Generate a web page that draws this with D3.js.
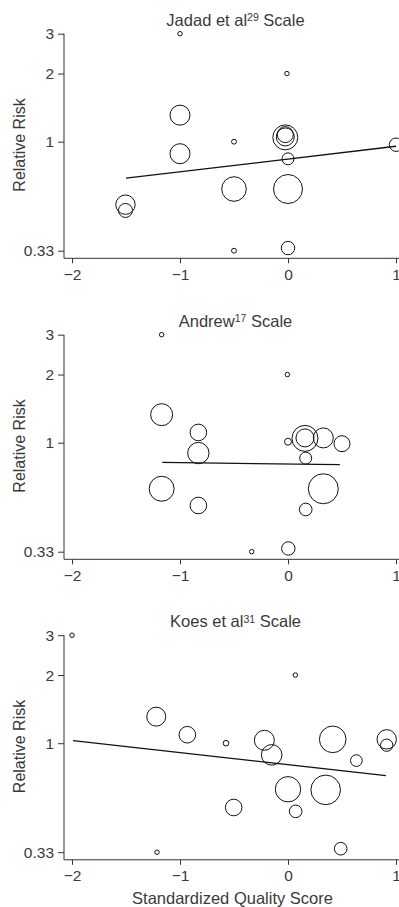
<!DOCTYPE html>
<html>
<head>
<meta charset="utf-8">
<script src="https://cdn.jsdelivr.net/npm/d3@7"></script>
<style>
  html, body { margin: 0; padding: 0; background: #fff; }
  svg { display: block; }
  text { font-family: "Liberation Sans", Arial, Helvetica, sans-serif; fill: #3a3a3a; }
</style>
</head>
<body>
<div id="chart"></div>
<script>
// ---------------- DATA ----------------
const panelTitles = ["Jadad et al", "Andrew", "Koes et al"];
const panelRefs = ["29", "17", "31"];
const yTickValues = [0.33, 1, 2, 3];
const yTickLabels = ["0.33", "1", "2", "3"];
const xTickValues = [-2, -1, 0, 1];

// Jadad et al scale: standardized score, relative risk, study weight
const jadadX = [-1.0, -0.01, -1.0, -1.0, -0.5, -0.025, -0.025, -0.025, 0.0, -0.5, 0.0, -1.505, -1.505, -0.5, 0.0, 1.0];
const jadadRR = [3.0, 2.0, 1.31, 0.885, 1.0, 1.045, 1.05, 1.075, 0.84, 0.618, 0.618, 0.527, 0.497, 0.33, 0.339, 0.97];
const jadadW = [5, 5, 100, 100, 6, 156, 81, 64, 36, 151, 210, 94, 49, 6, 45, 45];
const jadadFitX = [-1.5, 1.0];
const jadadFitRR = [0.69, 0.955];

// Andrew scale
const andrewX = [-1.17, -0.006, -1.17, -0.83, -0.83, -1.17, -0.83, 0.0, 0.157, 0.157, 0.327, 0.5, 0.164, 0.327, 0.164, -0.336, 0.003];
const andrewRR = [3.0, 2.0, 1.33, 1.11, 0.90, 0.626, 0.528, 1.01, 1.045, 1.05, 1.05, 0.99, 0.855, 0.626, 0.507, 0.33, 0.341];
const andrewW = [5, 5, 121, 69, 114, 156, 69, 12, 169, 81, 100, 64, 36, 225, 40, 5, 45];
const andrewFitX = [-1.165, 0.48];
const andrewFitRR = [0.819, 0.80];

// Koes et al scale
const koesX = [-2.0, 0.068, -1.22, -0.932, -0.574, -0.219, -0.151, 0.414, 0.914, 0.914, 0.633, 0.0, 0.349, -0.503, 0.071, -1.213, 0.488];
const koesRR = [3.0, 2.0, 1.31, 1.09, 1.0, 1.03, 0.888, 1.04, 1.04, 0.98, 0.838, 0.626, 0.622, 0.52, 0.50, 0.33, 0.342];
const koesW = [5, 5, 90, 69, 8, 100, 106, 177, 94, 38, 34, 161, 219, 69, 40, 5, 40];
const koesFitX = [-1.99, 0.907];
const koesFitRR = [1.027, 0.719];

const yLabel = "Relative Risk";
const xLabel = "Standardized Quality Score";

// ---------------- DRAW ----------------
const W = 399, H = 907;
const svg = d3.select("#chart").append("svg").attr("width", W).attr("height", H);

const panels = [
  { x: jadadX, rr: jadadRR, w: jadadW, fx: jadadFitX, fr: jadadFitRR },
  { x: andrewX, rr: andrewRR, w: andrewW, fx: andrewFitX, fr: andrewFitRR },
  { x: koesX, rr: koesRR, w: koesW, fx: koesFitX, fr: koesFitRR }
];
const offsets = [0, 301, 601.5];

const x = d3.scaleLinear().domain([-2, 1]).range([72, 396]);
const r = d3.scaleSqrt().domain([0, 225]).range([0, 15]);
const axisX = 64;

panels.forEach((p, i) => {
  const oy = offsets[i];
  const y = d3.scaleLog().domain([0.33, 3]).range([250.7 + oy, 33.7 + oy]);
  const xAxisY = 258.3 + oy;
  const g = svg.append("g");

  // title
  const t = g.append("text")
    .attr("x", 235.5).attr("y", 25.7 + oy)
    .attr("text-anchor", "middle")
    .style("font-size", "16.5px");
  t.append("tspan").text(panelTitles[i]);
  t.append("tspan").text(panelRefs[i]).style("font-size", "10.5px").attr("dy", -4.5);
  t.append("tspan").text(" Scale").attr("dy", 4.5);

  // y axis
  const ya = g.append("g").attr("transform", `translate(${axisX},0)`)
    .call(d3.axisLeft(y).tickValues(yTickValues)
      .tickFormat((d, k) => yTickLabels[k]).tickSize(6).tickPadding(4));
  ya.select(".domain").remove();
  ya.selectAll("line").attr("stroke", "#333");
  ya.selectAll("text").style("font-size", "15.5px").attr("fill", "#3a3a3a");
  g.append("line").attr("x1", axisX).attr("x2", axisX)
    .attr("y1", y(3)).attr("y2", xAxisY).attr("stroke", "#333");

  // x axis
  const xa = g.append("g").attr("transform", `translate(0,${xAxisY})`)
    .call(d3.axisBottom(x).tickValues(xTickValues).tickFormat(d3.format("d")).tickSize(5).tickPadding(5.5));
  xa.select(".domain").remove();
  xa.selectAll("line").attr("stroke", "#333");
  xa.selectAll("text").style("font-size", "15.5px").attr("fill", "#3a3a3a");
  g.append("line").attr("x1", axisX).attr("x2", W)
    .attr("y1", xAxisY).attr("y2", xAxisY).attr("stroke", "#333");

  // y label
  g.append("text")
    .attr("transform", `translate(25,${145 + oy}) rotate(-90)`)
    .attr("text-anchor", "middle")
    .style("font-size", "16px")
    .text(yLabel);

  // bubbles
  const data = p.x.map((v, k) => ({ x: v, rr: p.rr[k], w: p.w[k] }));
  g.selectAll("circle").data(data).join("circle")
    .attr("cx", d => x(d.x)).attr("cy", d => y(d.rr))
    .attr("r", d => r(d.w))
    .attr("fill", "none").attr("stroke", "#111").attr("stroke-width", 1);

  // regression line
  const fit = p.fx.map((v, k) => [v, p.fr[k]]);
  g.append("path").datum(fit)
    .attr("d", d3.line().x(d => x(d[0])).y(d => y(d[1])))
    .attr("fill", "none").attr("stroke", "#111").attr("stroke-width", 1.3);
});

svg.append("text")
  .attr("x", 232.5).attr("y", 904)
  .attr("text-anchor", "middle")
  .style("font-size", "16.5px")
  .text(xLabel);
</script>
</body>
</html>
